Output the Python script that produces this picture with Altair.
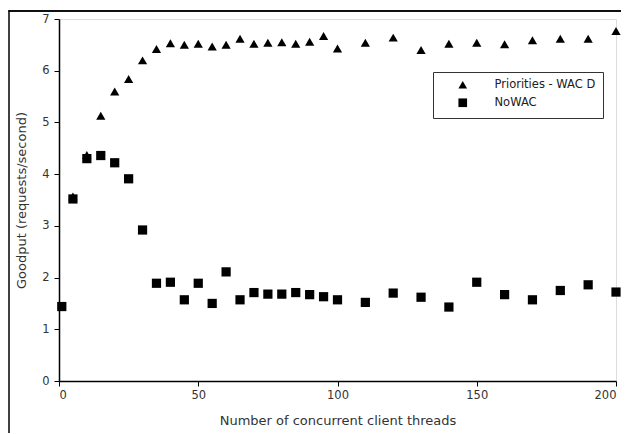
import altair as alt
import pandas as pd

# Priorities - WAC D (triangles)
x_wac = [5, 10, 15, 20, 25, 30, 35, 40, 45, 50, 55, 60, 65, 70, 75, 80, 85, 90, 95, 100,
         110, 120, 130, 140, 150, 160, 170, 180, 190, 200]
y_wac = [3.57, 4.37, 5.13, 5.60, 5.84, 6.20, 6.42, 6.53, 6.50, 6.52, 6.47, 6.50, 6.62, 6.52,
         6.54, 6.55, 6.52, 6.56, 6.67, 6.43, 6.54, 6.64, 6.40, 6.52, 6.54, 6.51, 6.59, 6.62,
         6.62, 6.77]

# NoWAC (squares)
x_nowac = [1, 5, 10, 15, 20, 25, 30, 35, 40, 45, 50, 55, 60, 65, 70, 75, 80, 85, 90, 95, 100,
           110, 120, 130, 140, 150, 160, 170, 180, 190, 200]
y_nowac = [1.44, 3.52, 4.30, 4.36, 4.22, 3.91, 2.92, 1.89, 1.91, 1.57, 1.89, 1.50, 2.11, 1.57,
           1.71, 1.68, 1.68, 1.71, 1.67, 1.63, 1.57, 1.52, 1.70, 1.62, 1.43, 1.91, 1.67, 1.57,
           1.75, 1.86, 1.72]

series_names = ["Priorities - WAC D", "NoWAC"]
x_ticks = [0, 50, 100, 150, 200]
y_ticks = [0, 1, 2, 3, 4, 5, 6, 7]

df = pd.concat([
    pd.DataFrame({"x": x_nowac, "y": y_nowac, "s": series_names[1]}),
    pd.DataFrame({"x": x_wac, "y": y_wac, "s": series_names[0]}),
])

FONT = "DejaVu Sans"

axis_common = dict(grid=False, domainColor="black", domainWidth=1.5,
                   tickColor="black", tickSize=5, labelFontSize=11.5,
                   labelColor="#333", titleFontSize=13, titleColor="#333",
                   titleFontWeight="normal", labelFont=FONT, titleFont=FONT)

xscale = alt.Scale(domain=[0, 200], nice=False)

points = alt.Chart(df).mark_point(filled=True, opacity=1, color="black", size=85).encode(
    x=alt.X("x:Q", scale=xscale,
            axis=alt.Axis(values=x_ticks, title="Number of concurrent client threads",
                          titlePadding=14, labelPadding=3, **axis_common)),
    y=alt.Y("y:Q", scale=alt.Scale(domain=[0, 7], nice=False),
            axis=alt.Axis(values=y_ticks, title="Goodput (requests/second)",
                          titlePadding=13, labelPadding=5, **axis_common)),
    shape=alt.Shape("s:N", scale=alt.Scale(domain=series_names,
                                            range=["triangle-up", "square"]),
                    legend=alt.Legend(title=None, orient="none", legendX=374, legendY=53,
                                      strokeColor="#333", fillColor="white", padding=7,
                                      symbolOffset=17, labelOffset=26, labelFontSize=11.5,
                                      labelFont=FONT, labelColor="#222",
                                      symbolFillColor="black", symbolStrokeColor="black",
                                      symbolSize=75, rowPadding=3, labelLimit=300)),
)

# page frame (from the source document) drawn in pixel space
top_line = alt.Chart(pd.DataFrame({"a": [0]})).mark_rule(
    color="black", strokeWidth=1.5, clip=False
).encode(
    x=alt.value(-50), x2=alt.value(575), y=alt.value(-8)
)
left_line = alt.Chart(pd.DataFrame({"a": [0]})).mark_rect(color="black").encode(
    x=alt.value(-50.75), x2=alt.value(-49.25), y=alt.value(-8.75), y2=alt.value(420)
)
top_rect = alt.Chart(pd.DataFrame({"a": [0]})).mark_rect(color="black").encode(
    x=alt.value(-50.75), x2=alt.value(575), y=alt.value(-8.75), y2=alt.value(-7.25)
)

chart = alt.layer(points, top_rect, top_line, left_line).properties(
    width=557, height=362,
    padding={"left": 51, "top": 11, "right": 5, "bottom": 52},
    autosize="none",
).configure_view(stroke="#999", strokeWidth=1.5).configure(font=FONT)

chart.save("out.html", embed_options={"renderer": "svg", "actions": False})
